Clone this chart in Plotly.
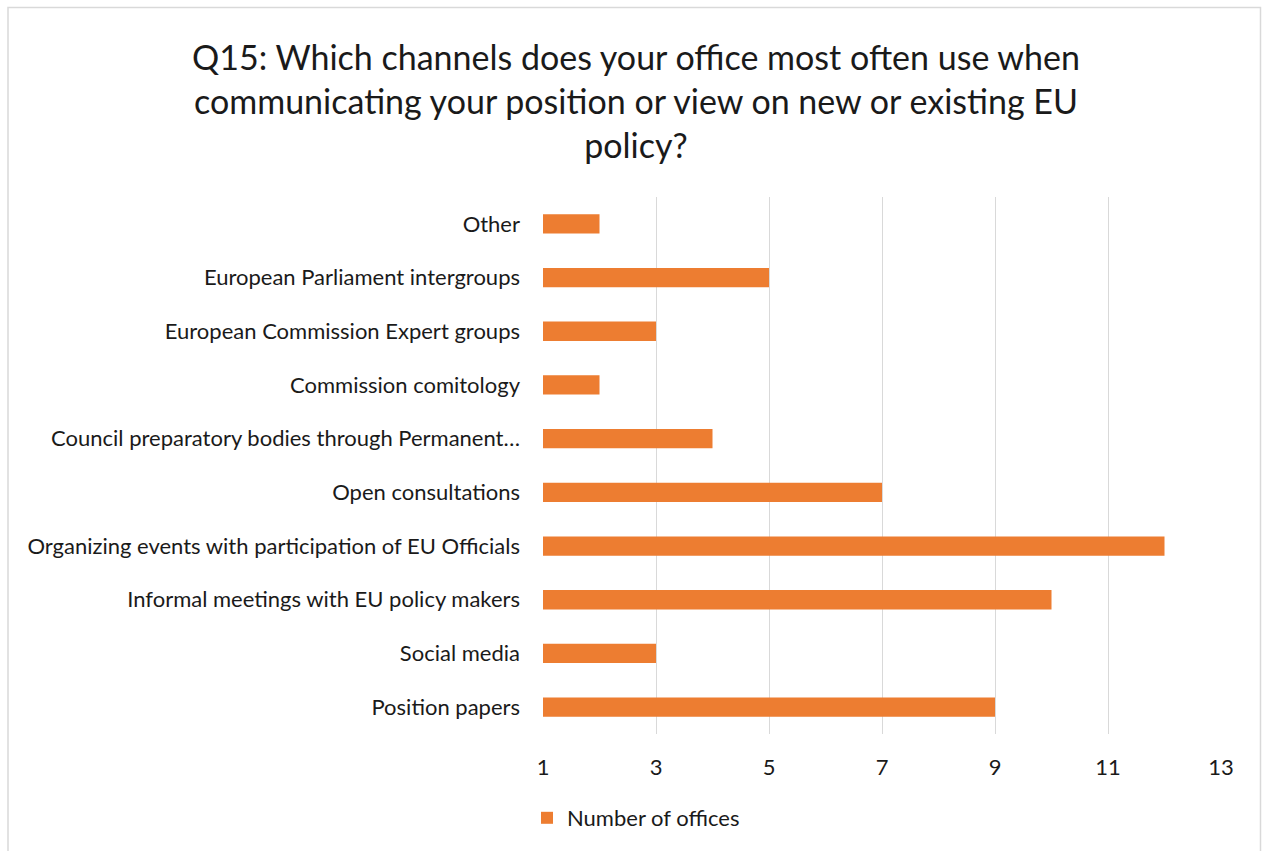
import plotly.graph_objects as go

categories = [
    "Position papers",
    "Social media",
    "Informal meetings with EU policy makers",
    "Organizing events with participation of EU Officials",
    "Open consultations",
    "Council preparatory bodies through Permanent…",
    "Commission comitology",
    "European Commission Expert groups",
    "European Parliament intergroups",
    "Other",
]
values = [9, 3, 10, 12, 7, 4, 2, 3, 5, 2]
series_name = "Number of offices"
x_ticks = [1, 3, 5, 7, 9, 11, 13]
title_text = ("Q15: Which channels does your office most often use when<br>"
              "communicating your position or view on new or existing EU<br>"
              "policy?")

FONT = "Lato"
W, H = 1262, 851
L, R, T, B = 543, 41, 197, 117
pw, ph = W - L - R, H - T - B

fig = go.Figure()
fig.add_trace(go.Bar(
    y=categories, x=values, orientation="h", name=series_name,
    marker=dict(color="#ED7D31", line=dict(width=0)),
    showlegend=True,
))

def px_x(p):
    return (p - L) / pw

def px_y(p):
    return (H - B - p) / ph

fig.update_layout(
    width=W, height=H,
    margin=dict(l=L, r=R, t=T, b=B),
    paper_bgcolor="white", plot_bgcolor="white",
    bargap=0.64,
    font=dict(family=FONT, size=22, color="#1a1a1a"),
    title=dict(text=title_text, x=636 / W, xanchor="center", xref="container",
               y=(H - 70) / H, yanchor="middle", yref="container",
               font=dict(family=FONT, size=34, color="#1a1a1a")),
    xaxis=dict(range=[1, 13], tickmode="array", tickvals=x_ticks,
               ticktext=[str(t) for t in x_ticks],
               showgrid=True, gridcolor="#d9d9d9", gridwidth=1.3,
               zeroline=False, showline=False, ticks="",
               ticklabelstandoff=18, tickfont=dict(size=22)),
    yaxis=dict(showgrid=False, zeroline=False, showline=False, ticks="",
               ticklabelstandoff=22, tickfont=dict(size=22)),
    legend=dict(orientation="h", x=px_x(527), xanchor="left",
                y=px_y(818), yanchor="middle",
                font=dict(size=22), itemwidth=30),
    shapes=[dict(type="rect", xref="paper", yref="paper",
                 x0=px_x(8), x1=px_x(1260.5), y0=px_y(860), y1=px_y(7.5),
                 line=dict(color="#d9d9d9", width=1.5), fillcolor="rgba(0,0,0,0)",
                 layer="below")],
)

fig.write_html("out.html")
